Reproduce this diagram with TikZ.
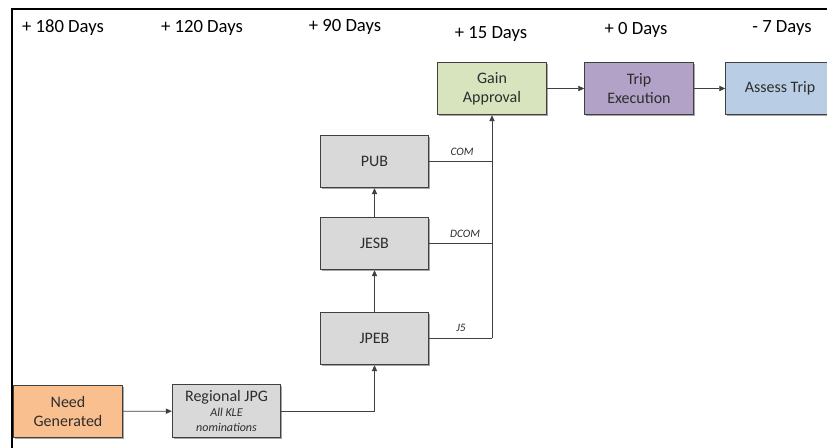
\documentclass[tikz,border=0pt]{standalone}
\usepackage{fontspec}
\setmainfont{Carlito}
\usetikzlibrary{arrows.meta,shadows}
\definecolor{cOrange}{RGB}{250,191,143}
\definecolor{cGreen}{RGB}{215,228,189}
\definecolor{cPurple}{RGB}{179,162,199}
\definecolor{cBlue}{RGB}{185,205,229}
\definecolor{cGrey}{RGB}{217,217,217}
\definecolor{cLine}{RGB}{64,64,64}
\definecolor{cText}{RGB}{45,45,45}
\tikzset{
  box/.style={draw=cLine, line width=0.6pt, minimum width=81.5pt, minimum height=39.5pt,
    align=center, font=\fontsize{12}{14}\selectfont, text=cText, inner sep=1pt,
    drop shadow={shadow xshift=1.2pt, shadow yshift=-1.2pt, opacity=0.35, fill=black}},
  hdr/.style={font=\fontsize{14}{16}\selectfont, text=black},
  conn/.style={draw=cLine, line width=0.6pt},
  arr/.style={conn, -{Triangle[length=4.5pt,width=4pt]}},
  lbl/.style={font=\fontsize{8.5}{9}\selectfont\itshape, text=cText, inner sep=1pt}
}
\begin{document}
\begin{tikzpicture}[x=0.75pt,y=-0.75pt]
\useasboundingbox (0,0) rectangle (827,448);
\fill[white] (0,0) rectangle (827,448);
% frame
\draw[line width=1.5pt,black] (12,448) -- (12,9) -- (830,9);
% headers
\node[hdr] (h1) at (63,28) {+ 180 Days};
\node[hdr] (h2) at (202,28) {+ 120 Days};
\node[hdr] (h3) at (345,27) {+ 90 Days};
\node[hdr] (h4) at (491,34) {+ 15 Days};
\node[hdr] (h5) at (636,30) {+ 0 Days};
\node[hdr] (h6) at (782,28) {- 7 Days};
% boxes
\node[box, fill=cGreen] (gain) at (492,88.5) {Gain\\Approval};
\node[box, fill=cPurple] (trip) at (639,88.5) {Trip\\Execution};
\node[box, fill=cBlue] (assess) at (780,88.5) {Assess Trip};
\node[box, fill=cGrey] (pub) at (374.5,161.5) {PUB};
\node[box, fill=cGrey] (jesb) at (374.5,243.5) {JESB};
\node[box, fill=cGrey] (jpeb) at (374.5,338.5) {JPEB};
\node[box, fill=cOrange] (need) at (68,411.5) {Need\\Generated};
\node[box, fill=cGrey] (reg) at (226.5,411) {Regional JPG\\[-3pt]{\fontsize{9}{10}\selectfont\itshape All KLE}\\[-3pt]{\fontsize{9}{10}\selectfont\itshape nominations}};
% connectors
\coordinate (bus) at (492,338.5);
\draw[arr] (need) -- (reg);
\draw[arr] (reg.east) -- (374.5,411) -- (jpeb.south);
\draw[arr] (jpeb) -- (jesb);
\draw[arr] (jesb) -- (pub);
\draw[conn] (pub.east) -- (pub.east -| bus);
\draw[conn] (jesb.east) -- (jesb.east -| bus);
\draw[conn] (jpeb.east) -- (bus);
\draw[arr] (bus) -- (gain.south);
\draw[arr] (gain) -- (trip);
\draw[arr] (trip) -- (assess);
% labels
\node[lbl] (lcom) at (462,152) {COM};
\node[lbl] (ldcom) at (465,234) {DCOM};
\node[lbl] (lj5) at (461,328) {J5};
\end{tikzpicture}
\end{document}
